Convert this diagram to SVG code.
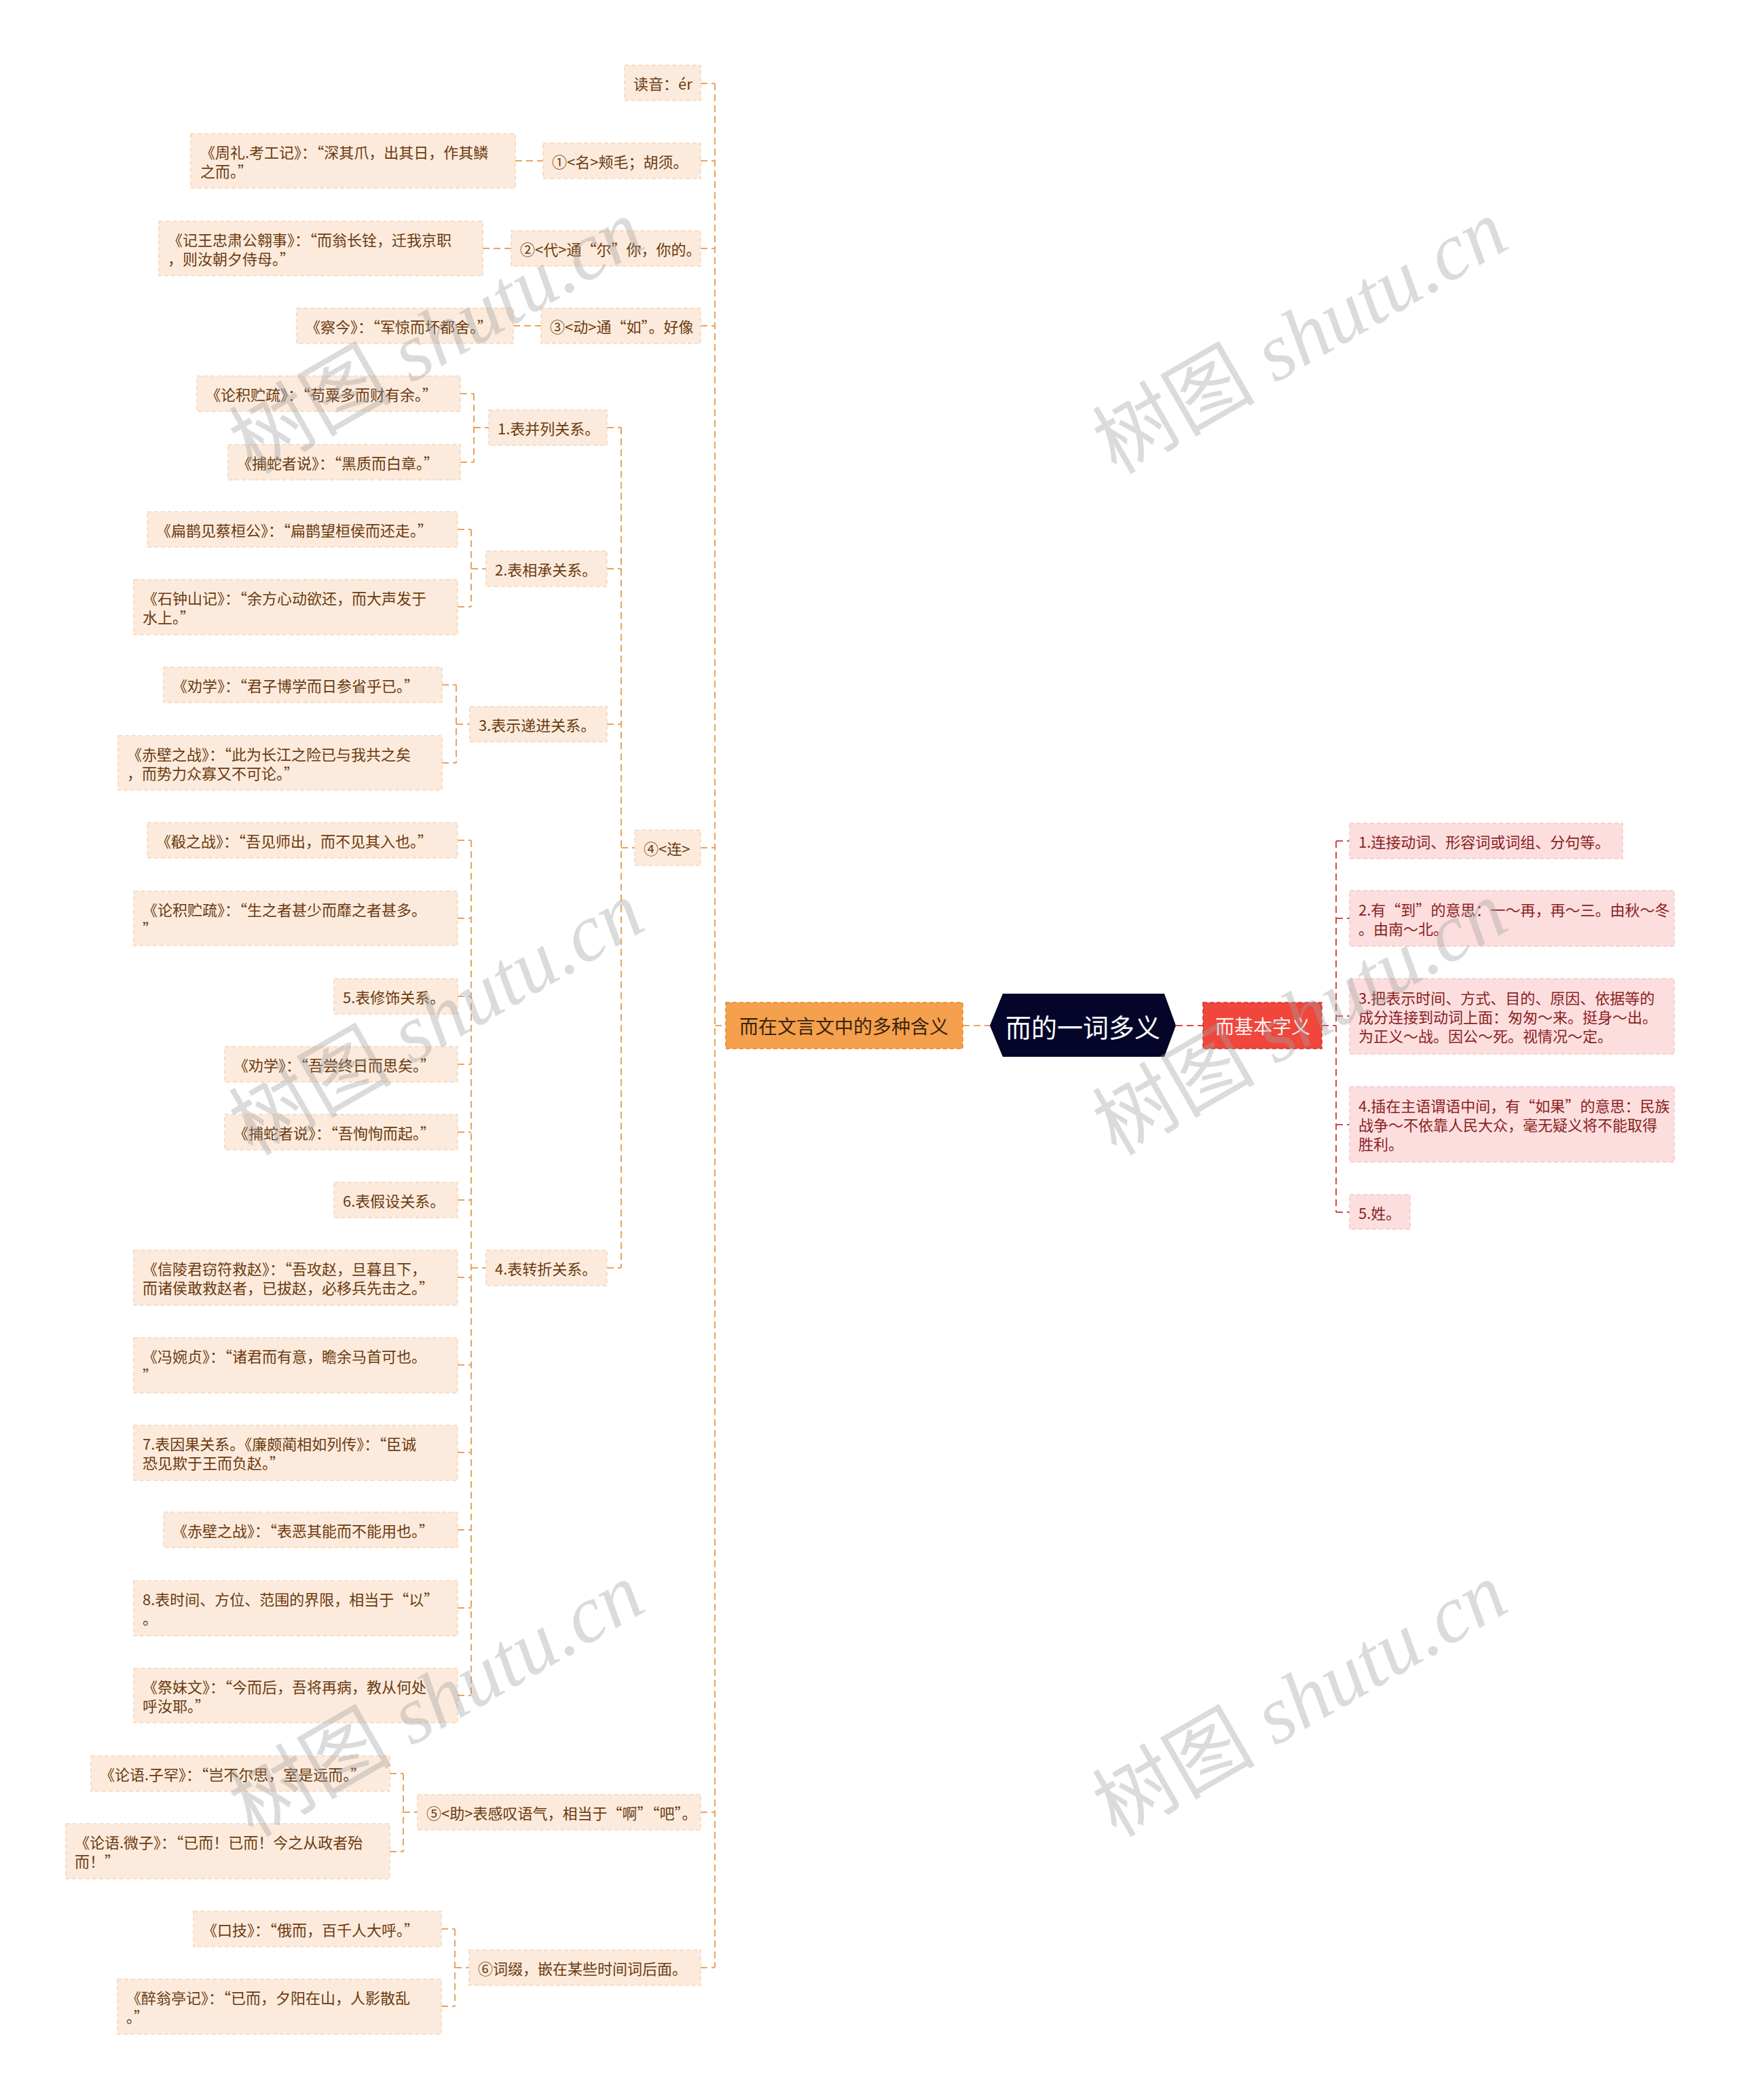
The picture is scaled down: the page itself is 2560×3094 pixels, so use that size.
<svg xmlns="http://www.w3.org/2000/svg" width="2560" height="3094" viewBox="0 0 2560 3094">
<style>
.n{fill:#fcebdc;stroke:#f5d6bb;stroke-width:1.5;stroke-dasharray:6 4}
.t{font-family:"Noto Sans CJK SC","Noto Sans",sans-serif;font-size:22px;fill:#6b3a10;dominant-baseline:central}
.rn{fill:#fcdede;stroke:#f6c6c6;stroke-width:1.5;stroke-dasharray:6 4}
.rt{font-family:"Noto Sans CJK SC","Noto Sans",sans-serif;font-size:22px;fill:#8a1f1f;dominant-baseline:central}
.q{font-feature-settings:"fwid" 1}
.c{fill:none;stroke:#e9a35e;stroke-width:2;stroke-dasharray:10 6}
.rc{fill:none;stroke:#d24a4a;stroke-width:2;stroke-dasharray:10 6}
.wm{font-family:"Liberation Serif",serif;font-style:italic;font-size:120px;fill:#a0a0a0;fill-opacity:0.38}
.wmc{font-family:"Noto Sans CJK SC",sans-serif;font-style:normal}
</style>
<rect width="2560" height="3094" fill="#ffffff"/>
<g id="connectors">
<path class="c" d="M1053 123V2899M1032 123H1053M1032 237H1053M1032 366H1053M1032 480H1053M1032 1249H1053M1032 2670H1053M1032 2899H1053M1053 1511H1069"/>
<path class="c" d="M759 237H800M711 366H753M756 480H797"/>
<path class="c" d="M915 630V1868M894 630H915M894 838H915M894 1067H915M894 1868H915M915 1249H935"/>
<path class="c" d="M698 580V681M678 580H698M678 681H698M698 630H720"/>
<path class="c" d="M694 780V894M674 780H694M674 894H694M694 838H716"/>
<path class="c" d="M672 1009V1124M651 1009H672M651 1124H672M672 1067H692"/>
<path class="c" d="M694 1238V2498M674 1238H694M674 1353H694M674 1468H694M674 1568H694M674 1668H694M674 1768H694M674 1882H694M674 2011H694M674 2140H694M674 2254H694M674 2369H694M674 2498H694M694 1868H716"/>
<path class="c" d="M594 2613V2728M574 2613H594M574 2728H594M594 2670H615"/>
<path class="c" d="M670 2842V2956M650 2842H670M650 2956H670M670 2899H691"/>
<path class="c" d="M1418 1511H1458" stroke="#e39a5c" stroke-dasharray="6 4 22 4"/>
<path class="rc" d="M1732 1511H1772" stroke-dasharray="22 4 6 4"/>
<path class="rc" d="M1968 1239V1786M1947 1511H1968M1968 1239H1988M1968 1353H1988M1968 1497H1988M1968 1657H1988M1968 1786H1988"/>
</g>
<g id="root">
<polygon points="1458,1511 1477,1464 1715,1464 1732,1511 1715,1557 1477,1557" fill="#05052a"/>
<text x="1595" y="1511" text-anchor="middle" dominant-baseline="central" font-family="Noto Sans CJK SC,sans-serif" font-size="38" fill="#ffffff">而的一词多义</text>
</g>
<g id="branch-left">
<rect x="1069" y="1477" width="349" height="68" fill="#f5a04c" stroke="#e0862e" stroke-width="1.5" stroke-dasharray="6 4"/>
<text x="1243" y="1511" text-anchor="middle" dominant-baseline="central" font-family="Noto Sans CJK SC,sans-serif" font-size="28" fill="#3a2410">而在文言文中的多种含义</text>
</g>
<g id="branch-right">
<rect x="1772" y="1477" width="175" height="68" fill="#f0463c" stroke="#c8362e" stroke-width="1.5" stroke-dasharray="6 4"/>
<text x="1860" y="1511" text-anchor="middle" dominant-baseline="central" font-family="Noto Sans CJK SC,sans-serif" font-size="28" fill="#fff2f0">而基本字义</text>
</g>
<g id="n-duyin"><rect class="n" x="920" y="96" width="112" height="52"/><text class="t" x="933" y="122">读音：ér</text></g>
<g id="n-1"><rect class="n" x="800" y="211" width="232" height="52"/><text class="t" x="813" y="237">①&lt;名&gt;颊毛；胡须。</text></g>
<g id="n-1a"><rect class="n" x="281" y="197" width="478" height="80"/><text class="t" x="295" y="223">《周礼.考工记》：<tspan class="q">“</tspan>深其爪，出其日，作其鳞</text><text class="t" x="295" y="251">之而。<tspan class="q">”</tspan></text></g>
<g id="n-2"><rect class="n" x="753" y="340" width="279" height="52"/><text class="t" x="766" y="366">②&lt;代&gt;通<tspan class="q">“</tspan>尔<tspan class="q">”</tspan>你，你的。</text></g>
<g id="n-2a"><rect class="n" x="234" y="326" width="477" height="80"/><text class="t" x="247" y="352">《记王忠肃公翱事》：<tspan class="q">“</tspan>而翁长铨，迁我京职</text><text class="t" x="247" y="380">，则汝朝夕侍母。<tspan class="q">”</tspan></text></g>
<g id="n-3"><rect class="n" x="797" y="454" width="235" height="52"/><text class="t" x="810" y="480">③&lt;动&gt;通<tspan class="q">“</tspan>如<tspan class="q">”</tspan>。好像</text></g>
<g id="n-3a"><rect class="n" x="437" y="454" width="319" height="52"/><text class="t" x="450" y="480">《察今》：<tspan class="q">“</tspan>军惊而坏都舍。<tspan class="q">”</tspan></text></g>
<g id="n-4"><rect class="n" x="935" y="1223" width="97" height="52"/><text class="t" x="948" y="1249">④&lt;连&gt;</text></g>
<g id="n-4-1"><rect class="n" x="720" y="604" width="174" height="52"/><text class="t" x="733" y="630">1.表并列关系。</text></g>
<g id="n-4-1a"><rect class="n" x="290" y="554" width="388" height="52"/><text class="t" x="303" y="580">《论积贮疏》：<tspan class="q">“</tspan>苟粟多而财有余。<tspan class="q">”</tspan></text></g>
<g id="n-4-1b"><rect class="n" x="336" y="655" width="342" height="52"/><text class="t" x="349" y="681">《捕蛇者说》：<tspan class="q">“</tspan>黑质而白章。<tspan class="q">”</tspan></text></g>
<g id="n-4-2"><rect class="n" x="716" y="812" width="178" height="52"/><text class="t" x="729" y="838">2.表相承关系。</text></g>
<g id="n-4-2a"><rect class="n" x="217" y="754" width="457" height="52"/><text class="t" x="230" y="780">《扁鹊见蔡桓公》：<tspan class="q">“</tspan>扁鹊望桓侯而还走。<tspan class="q">”</tspan></text></g>
<g id="n-4-2b"><rect class="n" x="197" y="854" width="477" height="81"/><text class="t" x="210" y="880">《石钟山记》：<tspan class="q">“</tspan>余方心动欲还，而大声发于</text><text class="t" x="210" y="908">水上。<tspan class="q">”</tspan></text></g>
<g id="n-4-3"><rect class="n" x="692" y="1041" width="202" height="52"/><text class="t" x="705" y="1067">3.表示递进关系。</text></g>
<g id="n-4-3a"><rect class="n" x="241" y="983" width="410" height="52"/><text class="t" x="254" y="1009">《劝学》：<tspan class="q">“</tspan>君子博学而日参省乎已。<tspan class="q">”</tspan></text></g>
<g id="n-4-3b"><rect class="n" x="174" y="1084" width="477" height="80"/><text class="t" x="187" y="1110">《赤壁之战》：<tspan class="q">“</tspan>此为长江之险已与我共之矣</text><text class="t" x="187" y="1138">，而势力众寡又不可论。<tspan class="q">”</tspan></text></g>
<g id="n-4-4"><rect class="n" x="716" y="1842" width="178" height="52"/><text class="t" x="729" y="1868">4.表转折关系。</text></g>
<g id="n-4-4a"><rect class="n" x="217" y="1212" width="457" height="52"/><text class="t" x="230" y="1238">《殽之战》：<tspan class="q">“</tspan>吾见师出，而不见其入也。<tspan class="q">”</tspan></text></g>
<g id="n-4-4b"><rect class="n" x="197" y="1313" width="477" height="80"/><text class="t" x="210" y="1339">《论积贮疏》：<tspan class="q">“</tspan>生之者甚少而靡之者甚多。</text><text class="t" x="210" y="1367"><tspan class="q">”</tspan></text></g>
<g id="n-4-4c"><rect class="n" x="492" y="1442" width="182" height="52"/><text class="t" x="505" y="1468">5.表修饰关系。</text></g>
<g id="n-4-4d"><rect class="n" x="331" y="1542" width="343" height="52"/><text class="t" x="344" y="1568">《劝学》：<tspan class="q">“</tspan>吾尝终日而思矣。<tspan class="q">”</tspan></text></g>
<g id="n-4-4e"><rect class="n" x="331" y="1642" width="343" height="52"/><text class="t" x="344" y="1668">《捕蛇者说》：<tspan class="q">“</tspan>吾恂恂而起。<tspan class="q">”</tspan></text></g>
<g id="n-4-4f"><rect class="n" x="492" y="1742" width="182" height="52"/><text class="t" x="505" y="1768">6.表假设关系。</text></g>
<g id="n-4-4g"><rect class="n" x="197" y="1842" width="477" height="81"/><text class="t" x="210" y="1868">《信陵君窃符救赵》：<tspan class="q">“</tspan>吾攻赵，旦暮且下，</text><text class="t" x="210" y="1896">而诸侯敢救赵者，已拔赵，必移兵先击之。<tspan class="q">”</tspan></text></g>
<g id="n-4-4h"><rect class="n" x="197" y="1971" width="477" height="81"/><text class="t" x="210" y="1997">《冯婉贞》：<tspan class="q">“</tspan>诸君而有意，瞻余马首可也。</text><text class="t" x="210" y="2025"><tspan class="q">”</tspan></text></g>
<g id="n-4-4i"><rect class="n" x="197" y="2100" width="477" height="81"/><text class="t" x="210" y="2126">7.表因果关系。《廉颇蔺相如列传》：<tspan class="q">“</tspan>臣诚</text><text class="t" x="210" y="2154">恐见欺于王而负赵。<tspan class="q">”</tspan></text></g>
<g id="n-4-4j"><rect class="n" x="241" y="2228" width="433" height="52"/><text class="t" x="254" y="2254">《赤壁之战》：<tspan class="q">“</tspan>表恶其能而不能用也。<tspan class="q">”</tspan></text></g>
<g id="n-4-4k"><rect class="n" x="197" y="2329" width="477" height="81"/><text class="t" x="210" y="2355">8.表时间、方位、范围的界限，相当于<tspan class="q">“</tspan>以<tspan class="q">”</tspan></text><text class="t" x="210" y="2383">。</text></g>
<g id="n-4-4l"><rect class="n" x="197" y="2458" width="477" height="80"/><text class="t" x="210" y="2484">《祭妹文》：<tspan class="q">“</tspan>今而后，吾将再病，教从何处</text><text class="t" x="210" y="2512">呼汝耶。<tspan class="q">”</tspan></text></g>
<g id="n-5"><rect class="n" x="615" y="2644" width="417" height="52"/><text class="t" x="628" y="2670">⑤&lt;助&gt;表感叹语气，相当于<tspan class="q">“</tspan>啊<tspan class="q">”</tspan><tspan class="q">“</tspan>吧<tspan class="q">”</tspan>。</text></g>
<g id="n-5a"><rect class="n" x="134" y="2587" width="440" height="52"/><text class="t" x="147" y="2613">《论语.子罕》：<tspan class="q">“</tspan>岂不尔思，室是远而。<tspan class="q">”</tspan></text></g>
<g id="n-5b"><rect class="n" x="97" y="2687" width="477" height="81"/><text class="t" x="110" y="2713">《论语.微子》：<tspan class="q">“</tspan>已而！已而！今之从政者殆</text><text class="t" x="110" y="2741">而！<tspan class="q">”</tspan></text></g>
<g id="n-6"><rect class="n" x="691" y="2873" width="341" height="52"/><text class="t" x="704" y="2899">⑥词缀，嵌在某些时间词后面。</text></g>
<g id="n-6a"><rect class="n" x="285" y="2816" width="365" height="52"/><text class="t" x="298" y="2842">《口技》：<tspan class="q">“</tspan>俄而，百千人大呼。<tspan class="q">”</tspan></text></g>
<g id="n-6b"><rect class="n" x="173" y="2916" width="477" height="81"/><text class="t" x="186" y="2942">《醉翁亭记》：<tspan class="q">“</tspan>已而，夕阳在山，人影散乱</text><text class="t" x="186" y="2970">。<tspan class="q">”</tspan></text></g>
<g id="r-1"><rect class="rn" x="1988" y="1213" width="402" height="52"/><text class="rt" x="2001" y="1239">1.连接动词、形容词或词组、分句等。</text></g>
<g id="r-2"><rect class="rn" x="1988" y="1312" width="478" height="82"/><text class="rt" x="2001" y="1339">2.有<tspan class="q">“</tspan>到<tspan class="q">”</tspan>的意思：一～再，再～三。由秋～冬</text><text class="rt" x="2001" y="1367">。由南～北。</text></g>
<g id="r-3"><rect class="rn" x="1988" y="1442" width="478" height="111"/><text class="rt" x="2001" y="1469">3.把表示时间、方式、目的、原因、依据等的</text><text class="rt" x="2001" y="1497">成分连接到动词上面：匆匆～来。挺身～出。</text><text class="rt" x="2001" y="1525">为正义～战。因公～死。视情况～定。</text></g>
<g id="r-4"><rect class="rn" x="1988" y="1601" width="478" height="111"/><text class="rt" x="2001" y="1628">4.插在主语谓语中间，有<tspan class="q">“</tspan>如果<tspan class="q">”</tspan>的意思：民族</text><text class="rt" x="2001" y="1656">战争～不依靠人民大众，毫无疑义将不能取得</text><text class="rt" x="2001" y="1684">胜利。</text></g>
<g id="r-5"><rect class="rn" x="1988" y="1760" width="89" height="51"/><text class="rt" x="2001" y="1786">5.姓。</text></g>
<g id="watermarks">
<text class="wm" transform="translate(372,700) rotate(-30)"><tspan class="wmc">树图</tspan> shutu.cn</text>
<text class="wm" transform="translate(1644,700) rotate(-30)"><tspan class="wmc">树图</tspan> shutu.cn</text>
<text class="wm" transform="translate(372,1704) rotate(-30)"><tspan class="wmc">树图</tspan> shutu.cn</text>
<text class="wm" transform="translate(1644,1704) rotate(-30)"><tspan class="wmc">树图</tspan> shutu.cn</text>
<text class="wm" transform="translate(372,2708) rotate(-30)"><tspan class="wmc">树图</tspan> shutu.cn</text>
<text class="wm" transform="translate(1644,2708) rotate(-30)"><tspan class="wmc">树图</tspan> shutu.cn</text>
</g>
</svg>
